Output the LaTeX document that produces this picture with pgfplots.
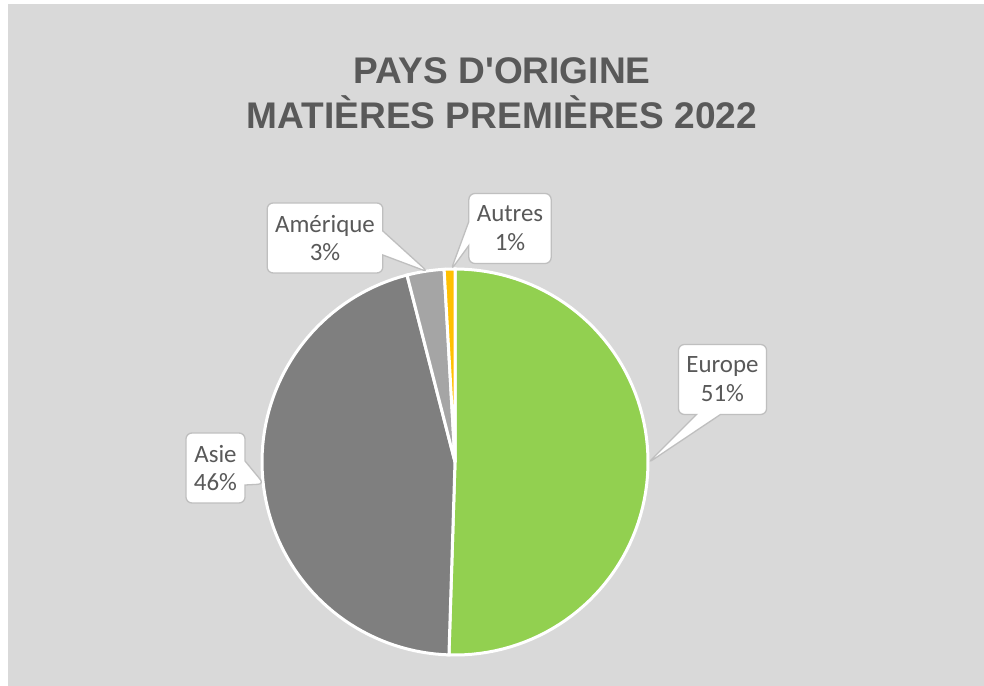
\documentclass[border=0pt]{standalone}
\usepackage{pgfplots}
\pgfplotsset{compat=1.18}
\usepackage{fontspec}
\setmainfont{Carlito}
\newfontfamily\titlefont{Liberation Sans}
\usetikzlibrary{shapes.callouts}
\definecolor{bg}{HTML}{D9D9D9}
\definecolor{txt}{HTML}{595959}
\definecolor{cEur}{HTML}{92D050}
\definecolor{cAsi}{HTML}{7F7F7F}
\definecolor{cAme}{HTML}{A5A5A5}
\definecolor{cAut}{HTML}{FFC000}
\definecolor{boxline}{HTML}{BFBFBF}
% shares (percent), clockwise from 12 o'clock
\def\pEur{50.5}
\def\pAsi{45.5}
\def\pAme{3.1}
\def\pAut{0.9}
\begin{document}
\begin{tikzpicture}
\pgfmathsetmacro\aA{90}
\pgfmathsetmacro\aB{\aA-3.6*\pEur}
\pgfmathsetmacro\aC{\aB-3.6*\pAsi}
\pgfmathsetmacro\aD{\aC-3.6*\pAme}
\pgfmathsetmacro\aE{\aD-3.6*\pAut}
\begin{axis}[
  scale only axis, width=984bp, height=686bp,
  xmin=0, xmax=984, ymin=0, ymax=686,
  hide axis, clip=false,
]
\fill[white] (axis cs:0,0) rectangle (axis cs:984,686);
\fill[bg] (axis cs:8,0) rectangle (axis cs:984,682);
\addplot[fill=cEur, draw=white, line width=3bp, samples=80, domain=\aB:\aA, variable=\t]
  ({455+193*cos(\t)},{224+193*sin(\t)}) -- (axis cs:455,224) -- cycle;
\addplot[fill=cAsi, draw=white, line width=3bp, samples=80, domain=\aC:\aB, variable=\t]
  ({455+193*cos(\t)},{224+193*sin(\t)}) -- (axis cs:455,224) -- cycle;
\addplot[fill=cAme, draw=white, line width=3bp, samples=10, domain=\aD:\aC, variable=\t]
  ({455+193*cos(\t)},{224+193*sin(\t)}) -- (axis cs:455,224) -- cycle;
\addplot[fill=cAut, draw=white, line width=3bp, samples=5, domain=\aE:\aD, variable=\t]
  ({455+193*cos(\t)},{224+193*sin(\t)}) -- (axis cs:455,224) -- cycle;
\node[anchor=base, text=txt, font=\titlefont\bfseries\fontsize{37.2}{42}\selectfont] at (axis cs:502,602) {PAYS D'ORIGINE};
\node[anchor=base, text=txt, font=\titlefont\bfseries\fontsize{37.2}{42}\selectfont] at (axis cs:502,557) {MATIÈRES PREMIÈRES 2022};
\tikzset{lab/.style={rectangle callout, fill=white, draw=boxline, line width=1.3bp, rounded corners=6bp,
  text=txt, font=\fontsize{25}{29}\selectfont, align=center, inner xsep=8bp, inner ysep=3bp,
  minimum height=70bp, callout pointer width=24bp}}
\node[lab, callout absolute pointer={(axis cs:648,223)}] at (axis cs:722.5,306.5) {Europe\\51\%};
\node[lab, callout absolute pointer={(axis cs:264,202)}] at (axis cs:215.5,218) {Asie\\46\%};
\node[lab, callout absolute pointer={(axis cs:428,414)}] at (axis cs:325,448) {Amérique\\3\%};
\node[lab, callout absolute pointer={(axis cs:451,416)}] at (axis cs:510,457.5) {Autres\\1\%};
\end{axis}
\end{tikzpicture}
\end{document}
